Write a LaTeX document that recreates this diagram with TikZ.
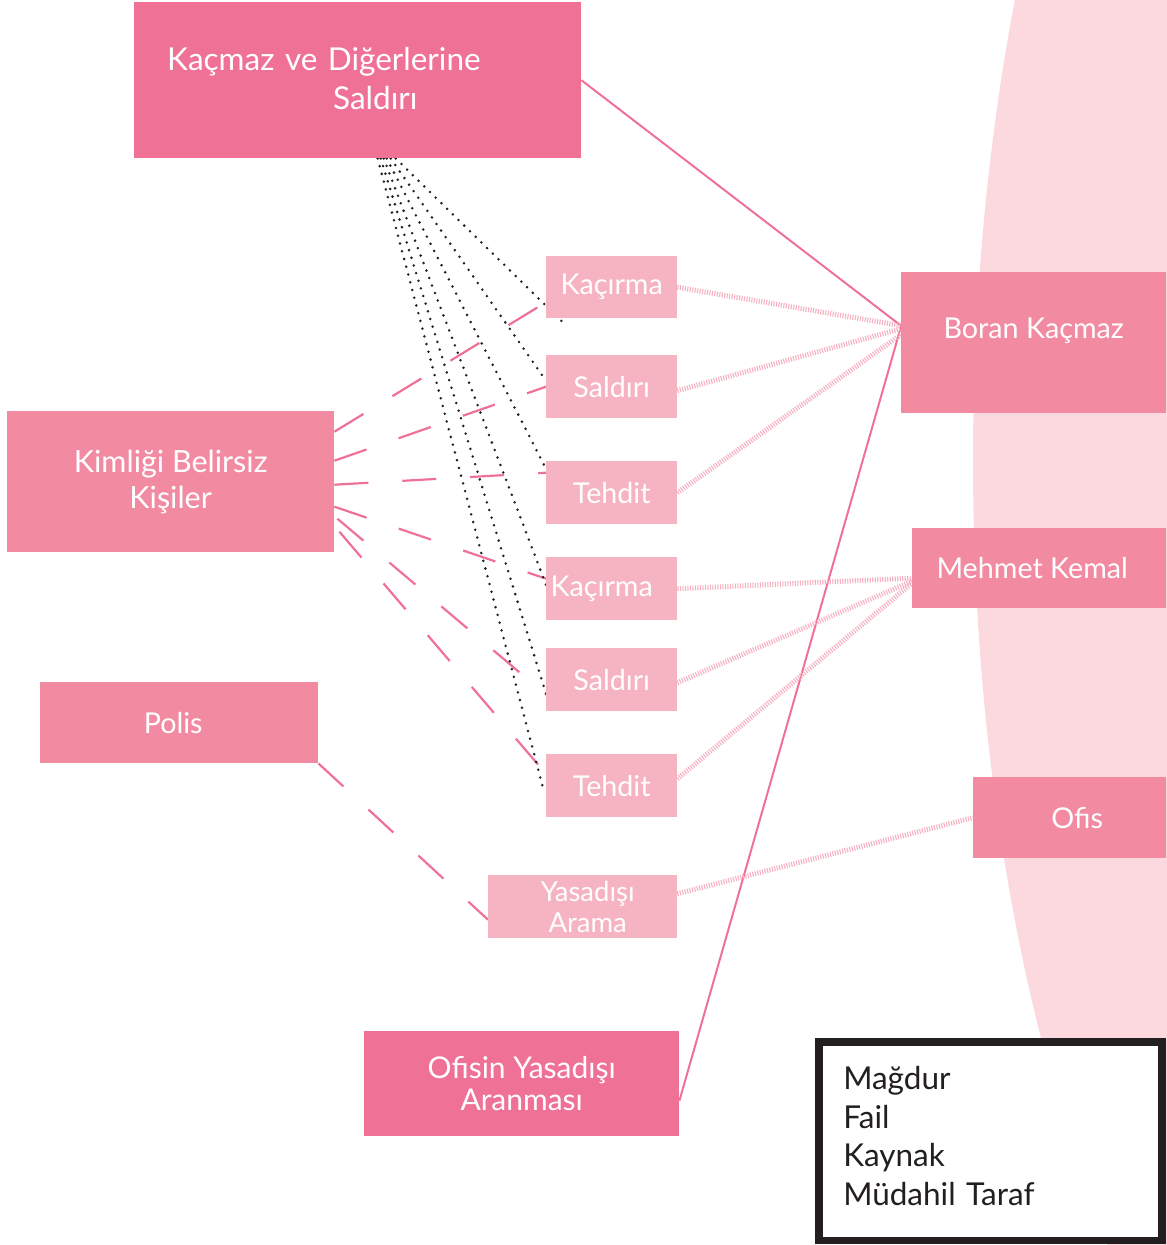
\documentclass[tikz,border=0pt]{standalone}
\usepackage{fontspec}
\setmainfont{Lato}
\definecolor{deep}{RGB}{240,113,150}
\definecolor{mid}{RGB}{242,139,162}
\definecolor{light}{RGB}{246,179,194}
\definecolor{hatchc}{RGB}{246,176,192}
\definecolor{bgc}{RGB}{251,217,222}
\definecolor{ink}{RGB}{35,31,32}
\pgfdeclarelayer{bg}
\pgfdeclarelayer{lines}
\pgfsetlayers{bg,lines,main}
\begin{document}
\begin{tikzpicture}[x=1pt,y=-1pt,
  box/.style={rectangle, inner sep=0pt, text=white, anchor=north west, align=center},
  bigf/.style={font=\fontsize{28.7}{36}\selectfont},
  deepbox/.style={box, fill=deep, bigf},
  midbox/.style={box, fill=mid, bigf},
  lightbox/.style={box, fill=light, bigf, minimum width=131pt, minimum height=63pt},
  solidl/.style={draw=deep, line width=2pt},
  hatch/.style={draw=hatchc, line width=5pt, dash pattern=on 1.1pt off 1.4pt},
  dashl/.style={draw=deep, line width=2.2pt, dash pattern=on 34pt off 34pt},
  dotl/.style={draw=ink, line width=2.8pt, line cap=round, dash pattern=on 0pt off 8pt}]
\useasboundingbox (0,0) rectangle (1167,1245);
\begin{pgfonlayer}{bg}
  \begin{scope}
    \clip (0,0) rectangle (1167,1245);
    \fill[bgc] (1500,460) ellipse [x radius=527, y radius=1176];
  \end{scope}
\end{pgfonlayer}

% boxes
\node[deepbox, minimum width=447pt, minimum height=156pt, text width=381pt, align=left,
  font=\fontsize{31.5}{39}\selectfont] (top) at (134,2)
  {Kaçmaz ve Diğerlerine\\\hspace*{166pt}Saldırı\\[-36pt]\mbox{}};
\node[midbox, minimum width=265pt, minimum height=141pt, align=none, text height=21pt, text depth=30pt] (boran) at (901,272) {Boran Kaçmaz};
\node[midbox, minimum width=254pt, minimum height=80pt] (mehmet) at (912,528) {Mehmet Kemal\hspace*{14pt}};
\node[midbox, minimum width=193pt, minimum height=81pt] (ofis) at (973,777) {\hspace*{15pt}Ofis};
\node[midbox, minimum width=327pt, minimum height=141pt, font=\fontsize{30.5}{36}\selectfont] (kim) at (7,411) {Kimliği Belirsiz\\Kişiler};
\node[midbox, minimum width=278pt, minimum height=81pt] (polis) at (40,682) {Polis\hspace*{12pt}};
\node[deepbox, minimum width=315pt, minimum height=105pt, font=\fontsize{30}{32}\selectfont] (ofisin) at (364,1031) {Ofisin Yasadışı\\Aranması};
\node[lightbox, minimum height=62pt] (k1) at (546,256) {Kaçırma};
\node[lightbox] (s1) at (546,355) {Saldırı};
\node[lightbox] (t1) at (546,461) {Tehdit};
\node[lightbox] (k2) at (546,557) {Kaçırma\hspace*{20pt}};
\node[lightbox] (s2) at (546,648) {Saldırı};
\node[lightbox] (t2) at (546,754) {Tehdit};
\node[lightbox, minimum width=189pt, font=\fontsize{27.5}{31}\selectfont] (yas) at (488,875) {\hspace*{10pt}Yasadışı\\\hspace*{10pt}Arama};
\node[rectangle, draw=ink, fill=white, line width=7.5pt, anchor=north west, inner sep=0pt,
  minimum width=343pt, minimum height=198.5pt, text width=294pt, align=left, text=ink,
  font=\fontsize{31.5}{38.5}\selectfont] (legend) at (815,1038)
  {Mağdur\\Fail\\Kaynak\\Müdahil Taraf\\[-28pt]\mbox{}};

\begin{pgfonlayer}{lines}
  % solid
  \draw[solidl] (top.east) -- ([yshift=17pt]boran.west);
  \draw[solidl] ([yshift=-17pt]ofisin.east) -- ([yshift=16pt]boran.west);
  % hatched
  \draw[hatch] (k1.east) -- ([yshift=17pt]boran.west);
  \draw[hatch] ([yshift=-4pt]s1.east) -- ([yshift=14pt]boran.west);
  \draw[hatch] (t1.east) -- ([yshift=8pt]boran.west);
  \draw[hatch] (k2.east) -- ([yshift=-10pt]mehmet.west);
  \draw[hatch] ([yshift=-3pt]s2.east) -- ([yshift=-13pt]mehmet.west);
  \draw[hatch] ([yshift=7pt]t2.east) -- ([yshift=-15pt]mehmet.west);
  \draw[hatch] ([yshift=13pt]yas.east) -- (ofis.west);
  % dashed
  \draw[dashl] ([yshift=50pt]kim.east) -- ([yshift=-15pt]k1.west);
  \draw[dashl] ([yshift=21pt]kim.east) -- (s1.west);
  \draw[dashl] ([yshift=-3pt]kim.east) -- ([yshift=20pt]t1.west);
  \draw[dashl] ([yshift=-25pt]kim.east) -- ([yshift=10pt]k2.west);
  \draw[dashl] ([xshift=3pt,yshift=-37pt]kim.east) -- ([yshift=-15pt]s2.west);
  \draw[dashl] ([xshift=5pt,yshift=-50pt]kim.east) -- ([xshift=-7pt,yshift=20pt]t2.west);
  \draw[dashl] (polis.south east) -- ([yshift=-13pt]yas.west);
  % dotted
  \draw[dotl] ([xshift=38pt]top.south) -- ([xshift=19pt,yshift=-6pt]k1.south west);
  \draw[dotl] ([xshift=33pt]top.south) -- ([yshift=6pt]s1.west);
  \draw[dotl] ([xshift=29pt]top.south) -- ([yshift=24pt]t1.west);
  \draw[dotl] ([xshift=26pt]top.south) -- ([yshift=4pt]k2.west);
  \draw[dotl] ([xshift=23pt]top.south) -- ([yshift=-14pt]s2.west);
  \draw[dotl] ([xshift=20pt]top.south) -- ([xshift=-2pt,yshift=-6pt]t2.west);
\end{pgfonlayer}
\end{tikzpicture}
\end{document}
